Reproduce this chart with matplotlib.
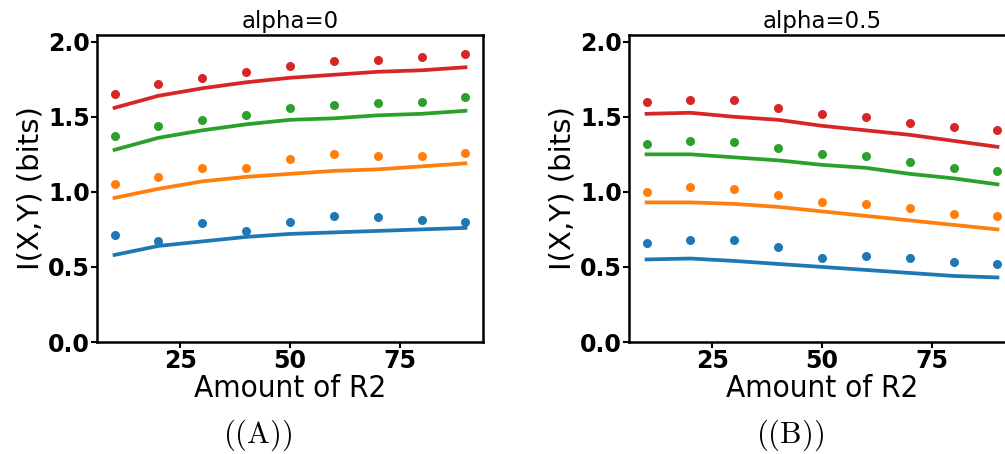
import matplotlib
matplotlib.use('Agg')
import matplotlib.pyplot as plt

# amount of R2 on the x axis
amount_r2 = [10, 20, 30, 40, 50, 60, 70, 80, 90]
colors = ['tab:blue', 'tab:orange', 'tab:green', 'tab:red']

# alpha = 0 : dots are measured, lines are the fit
a0_dots = [
    [0.71, 0.67, 0.79, 0.74, 0.80, 0.84, 0.83, 0.81, 0.80],
    [1.05, 1.10, 1.16, 1.16, 1.22, 1.25, 1.24, 1.24, 1.26],
    [1.37, 1.44, 1.48, 1.51, 1.56, 1.58, 1.59, 1.60, 1.63],
    [1.65, 1.72, 1.76, 1.80, 1.84, 1.87, 1.88, 1.90, 1.92],
]
a0_lines = [
    [0.58, 0.64, 0.67, 0.70, 0.72, 0.73, 0.74, 0.75, 0.76],
    [0.96, 1.02, 1.07, 1.10, 1.12, 1.14, 1.15, 1.17, 1.19],
    [1.28, 1.36, 1.41, 1.45, 1.48, 1.49, 1.51, 1.52, 1.54],
    [1.56, 1.64, 1.69, 1.73, 1.76, 1.78, 1.80, 1.81, 1.83],
]

# alpha = 0.5
a5_dots = [
    [0.66, 0.68, 0.68, 0.63, 0.56, 0.57, 0.56, 0.53, 0.52],
    [1.00, 1.03, 1.02, 0.98, 0.93, 0.92, 0.89, 0.85, 0.84],
    [1.32, 1.34, 1.33, 1.29, 1.25, 1.24, 1.20, 1.16, 1.14],
    [1.60, 1.61, 1.61, 1.56, 1.52, 1.50, 1.46, 1.43, 1.41],
]
a5_lines = [
    [0.55, 0.556, 0.54, 0.52, 0.50, 0.48, 0.46, 0.44, 0.43],
    [0.93, 0.93, 0.92, 0.90, 0.87, 0.84, 0.81, 0.78, 0.75],
    [1.25, 1.25, 1.23, 1.21, 1.18, 1.16, 1.12, 1.09, 1.05],
    [1.52, 1.527, 1.50, 1.48, 1.44, 1.41, 1.38, 1.34, 1.30],
]

titles = ['alpha=0', 'alpha=0.5']
captions = ['A', 'B']

plt.rcParams['mathtext.fontset'] = 'cm'

fig = plt.figure(figsize=(10.05, 4.54), dpi=100)
ax1 = fig.add_axes([97 / 1005, 112 / 454, 386 / 1005, 307 / 454])
ax2 = fig.add_axes([629 / 1005, 112 / 454, 386 / 1005, 307 / 454])

for ax, dots, lines, title, cap in zip([ax1, ax2], [a0_dots, a5_dots],
                                       [a0_lines, a5_lines], titles, captions):
    for d, l, c in zip(dots, lines, colors):
        ax.plot(amount_r2, l, color=c, lw=2.7)
        ax.plot(amount_r2, d, 'o', color=c, ms=6.5, mec='none')
    ax.set_ylim(0, 2.045)
    ax.set_xticks([25, 50, 75])
    ax.set_yticks([0.0, 0.5, 1.0, 1.5, 2.0])
    ax.set_title(title, fontsize=16.5, pad=5)
    ax.set_xlabel('Amount of R2', fontsize=22.5, fontstretch='condensed', labelpad=1)
    ax.set_ylabel('I(X,Y) (bits)', fontsize=21, labelpad=3)
    ax.tick_params(labelsize=17, width=1.5, length=4, pad=1)
    for lab in ax.get_xticklabels() + ax.get_yticklabels():
        lab.set_fontweight('bold')
    for sp in ax.spines.values():
        sp.set_linewidth(1.8)
    pos = ax.get_position()
    cx = pos.x0 + (161 / 1005)
    fig.text(cx, 19 / 454, r'$((\mathrm{%s}))$' % cap, fontsize=22,
             ha='center', va='center')

fig.savefig('out.png', dpi=100)
